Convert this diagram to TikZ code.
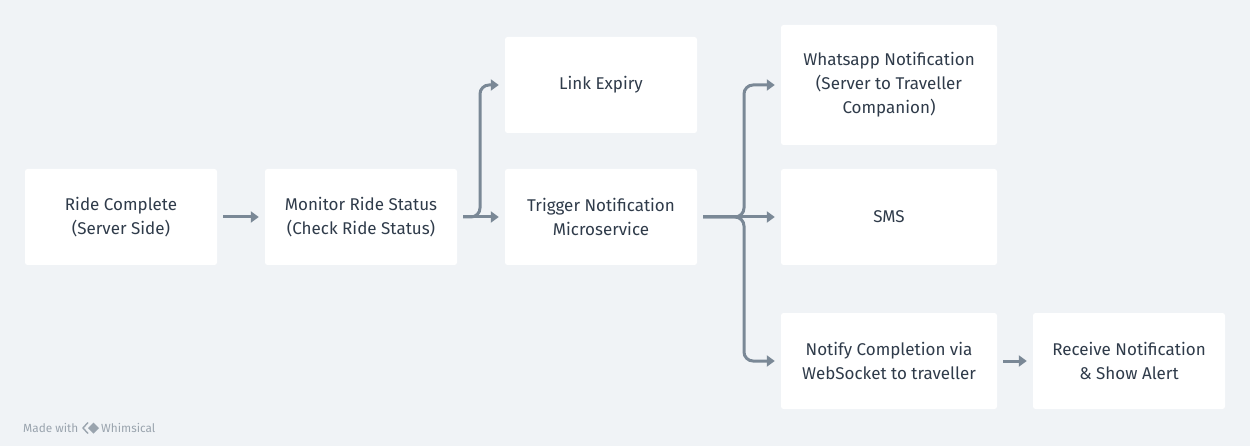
\documentclass[tikz,border=0pt]{standalone}
\usepackage{fontspec}
\setmainfont{Fira Sans}
\usetikzlibrary{arrows.meta}
\definecolor{bg}{HTML}{F0F3F6}
\definecolor{txt}{HTML}{2F3B4A}
\definecolor{ln}{HTML}{7A8896}
\definecolor{wm}{HTML}{9AA4AE}
\tikzset{
  box/.style={fill=white, draw=none, rounded corners=2.5pt, minimum width=192pt, minimum height=96pt,
    align=center, text=txt, font=\fontsize{17}{24}\selectfont, inner sep=0pt},
  wide/.style={box, minimum width=216pt, minimum height=120pt},
  arr/.style={draw=ln, line width=3pt, -{Triangle[length=8pt,width=11pt]}},
  branch/.style={arr, rounded corners=9pt},
  wmtext/.style={anchor=west, text=wm, font=\fontsize{11.8}{12}\selectfont, inner sep=0pt},
}
\begin{document}
\begin{tikzpicture}[x=1pt,y=-1pt]
\useasboundingbox (0,0) rectangle (1250,446);
\fill[bg] (0,0) rectangle (1250,446);
\node[box] (A) at (121,217) {Ride Complete\\(Server Side)};
\node[box] (B) at (361,217) {Monitor Ride Status\\(Check Ride Status)};
\node[box] (C) at (601,85) {Link Expiry};
\node[box] (D) at (601,217) {Trigger Notification\\Microservice};
\node[wide] (E) at (889,85) {Whatsapp Notification\\(Server to Traveller\\Companion)};
\node[box, minimum width=216pt] (F) at (889,217) {SMS};
\node[box, minimum width=216pt] (G) at (889,361) {Notify Completion via\\WebSocket to traveller};
\node[box] (H) at (1129,361) {Receive Notification\\\& Show Alert};
% connectors
\draw[arr] ([xshift=6pt]A.east) -- ([xshift=-6pt]B.west);
\draw[arr] ([xshift=6pt]B.east) -- ([xshift=-6pt]D.west);
\draw[branch] ([xshift=6pt]B.east) -- (480,217) -- (480,85) -- ([xshift=-6pt]C.west);
\draw[arr] ([xshift=6pt]D.east) -- ([xshift=-6pt]F.west);
\draw[branch] ([xshift=6pt]D.east) -- (744,217) -- (744,85) -- ([xshift=-6pt]E.west);
\draw[branch] ([xshift=6pt]D.east) -- (744,217) -- (744,361) -- ([xshift=-6pt]G.west);
\draw[arr] ([xshift=6pt]G.east) -- ([xshift=-6pt]H.west);
% watermark
\node[wmtext] (wm1) at (23,428) {Made with};
\fill[wm] (88,428) -- (93.5,422.5) -- (99,428) -- (93.5,433.5) -- cycle;
\draw[wm, line width=1.4pt] (88,422.5) -- (83,428) -- (88,433.5);
\node[wmtext] (wm2) at (101,428) {Whimsical};
\end{tikzpicture}
\end{document}
